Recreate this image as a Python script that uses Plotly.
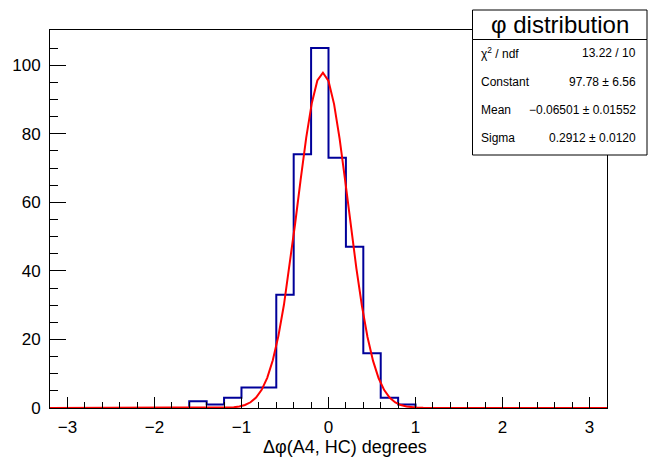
import numpy as np
import plotly.graph_objects as go

# ---- data ----
x_min, x_max, n_bins = -3.2, 3.2, 32
counts = [0, 0, 0, 0, 0, 0, 0, 0,
          2, 1, 3, 6, 6, 33, 74, 105,
          73, 47, 16, 3, 1, 0, 0, 0,
          0, 0, 0, 0, 0, 0, 0, 0]
fit_constant = 97.78
fit_mean = -0.06501
fit_sigma = 0.2912
stat_labels = ["χ<sup>2</sup> / ndf", "Constant", "Mean", "Sigma"]
stat_values = ["13.22 / 10", "97.78 ± 6.56", "−0.06501 ± 0.01552", "0.2912 ± 0.0120"]
x_ticks = [-3, -2, -1, 0, 1, 2, 3]
y_ticks = [0, 20, 40, 60, 80, 100]

edges = np.linspace(x_min, x_max, n_bins + 1)
hx = [x_min]
hy = [0]
for i, c in enumerate(counts):
    hx += [edges[i], edges[i + 1]]
    hy += [c, c]
hx += [x_max]
hy += [0]

fx = np.linspace(x_min, x_max, 101)
fy = fit_constant * np.exp(-0.5 * ((fx - fit_mean) / fit_sigma) ** 2)

FONT = "Liberation Sans, Arial, Helvetica, sans-serif"

fig = go.Figure()
fig.add_trace(go.Scatter(x=hx, y=hy, mode="lines",
                         line=dict(color="#000099", width=2), hoverinfo="skip"))
fig.add_trace(go.Scatter(x=fx, y=fy, mode="lines",
                         line=dict(color="#ff0000", width=2), hoverinfo="skip"))

W, H = 658, 459
L, R, T, B = 50, 607, 30, 408  # frame in page pixels


def px(x):
    return (x - L) / (R - L)


def py(y):
    return (B - y) / (B - T)


fig.update_layout(
    width=W, height=H,
    margin=dict(l=L, r=W - R, t=T, b=H - B, pad=0, autoexpand=False),
    paper_bgcolor="white", plot_bgcolor="white",
    showlegend=False,
    font=dict(family=FONT, color="black"),
    xaxis=dict(range=[x_min, x_max], tickvals=x_ticks, ticks="inside", ticklen=11,
               tickwidth=1, tickcolor="black", showgrid=False, zeroline=False,
               showline=True, linecolor="black", linewidth=1, mirror=True,
               automargin=False,
               tickfont=dict(size=17, family=FONT), ticklabelstandoff=4,
               minor=dict(dtick=0.2, tick0=0, ticks="inside", ticklen=6,
                          tickcolor="black", tickwidth=1, showgrid=False)),
    yaxis=dict(range=[0, 110.25], tickvals=y_ticks, ticks="inside", ticklen=16,
               tickwidth=1, tickcolor="black", showgrid=False, zeroline=False,
               showline=True, linecolor="black", linewidth=1, mirror=True,
               automargin=False,
               tickfont=dict(size=17, family=FONT), ticklabelstandoff=5,
               minor=dict(dtick=5, tick0=0, ticks="inside", ticklen=8,
                          tickcolor="black", tickwidth=1, showgrid=False)),
)

shapes = []
shapes.append(dict(type="rect", xref="paper", yref="paper",
                   x0=px(472.5), x1=px(647), y0=py(155), y1=py(39.5),
                   line=dict(color="black", width=1), fillcolor="white", layer="above"))
shapes.append(dict(type="rect", xref="paper", yref="paper",
                   x0=px(472.5), x1=px(647), y0=py(39.5), y1=py(10),
                   line=dict(color="black", width=1), fillcolor="white", layer="above"))
fig.update_layout(shapes=shapes)

ann = []
ann.append(dict(text="φ distribution", xref="paper", yref="paper",
                x=px(559.5), y=py(25), xanchor="center", yanchor="middle",
                showarrow=False, font=dict(size=24, family=FONT)))
row_y = [53, 82, 110, 138]
for lab, val, yy in zip(stat_labels, stat_values, row_y):
    ann.append(dict(text=lab, xref="paper", yref="paper", x=px(479), y=py(yy),
                    xanchor="left", yanchor="middle", showarrow=False,
                    font=dict(size=12, family=FONT)))
    ann.append(dict(text=val, xref="paper", yref="paper", x=px(638), y=py(yy),
                    xanchor="right", yanchor="middle", showarrow=False,
                    font=dict(size=12, family=FONT)))
ann.append(dict(text="Δφ(A4, HC) degrees", xref="paper", yref="paper",
                x=px(345), y=py(447), xanchor="center", yanchor="middle",
                showarrow=False, font=dict(size=18, family=FONT)))
fig.update_layout(annotations=ann)

fig.write_html(
    "out.html",
    config={"displayModeBar": False},
    post_script="document.body.style.margin='0px';document.body.style.overflow='hidden';",
)
